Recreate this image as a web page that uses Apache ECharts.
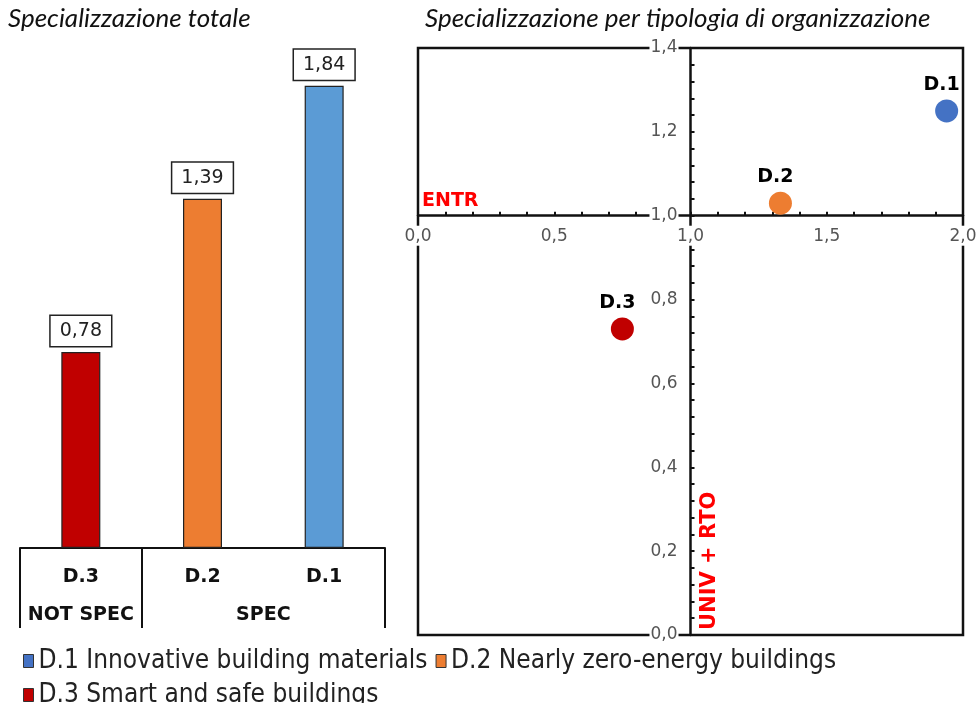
<!DOCTYPE html>
<html>
<head>
<meta charset="utf-8">
<script src="https://cdn.jsdelivr.net/npm/echarts@6/dist/echarts.min.js"></script>
<style>
  html, body { margin: 0; padding: 0; background: #fff; }
  #chart { width: 976px; height: 703px; }
</style>
</head>
<body>
<div id="chart"></div>
<script>
// Overall specialisation index per domain
const barCategories = ['D.3', 'D.2', 'D.1'];
const barValues = [0.78, 1.39, 1.84];

// Groups drawn under the category axis, as band-index ranges
const groupLabels = ['NOT SPEC', 'SPEC'];
const groupStarts = [0, 1];
const groupEnds = [1, 3];

// Specialisation by type of organisation (x: ENTR, y: UNIV + RTO)
const domainCodes = ['D.1', 'D.2', 'D.3'];
const domainNames = ['Innovative building materials', 'Nearly zero-energy buildings', 'Smart and safe buildings'];
const entrValues = [1.94, 1.33, 0.75];
const univRtoValues = [1.25, 1.03, 0.73];

// Quadrant chart tick values and the point where the axes cross
const xTickValues = [0, 0.5, 1, 1.5, 2];
const yTickValues = [0, 0.2, 0.4, 0.6, 0.8, 1, 1.2, 1.4];
const crossPoint = [1, 1];

const barColors = { 'D.1': '#5B9BD5', 'D.2': '#ED7D31', 'D.3': '#C00000' };
const pointColors = { 'D.1': '#4472C4', 'D.2': '#ED7D31', 'D.3': '#C00000' };

const FONT = "'DejaVu Sans', Verdana, sans-serif";
const LEGEND_FONT = "'DejaVu Sans Condensed', 'DejaVu Sans', sans-serif";
const TITLE_FONT = "Lato, 'Liberation Sans', sans-serif";
const fmt = (v, d) => v.toFixed(d).replace('.', ',');

const W = 976, H = 703;
const barGrid = { left: 20, right: 591, top: 48, bottom: 155 };
const quadGrid = { left: 418, right: 13, top: 48, bottom: 68 };
const quadW = W - quadGrid.left - quadGrid.right;
const quadH = H - quadGrid.top - quadGrid.bottom;

const xMin = xTickValues[0], xMax = xTickValues[xTickValues.length - 1];
const yMin = yTickValues[0], yMax = yTickValues[yTickValues.length - 1];
const xStep = xTickValues[1] - xTickValues[0];
const yStep = yTickValues[1] - yTickValues[0];
// shift the quadrant axes from the grid edge to the crossing point
const yAxisShift = -quadW * (crossPoint[0] - xMin) / (xMax - xMin);
const xAxisShift = -quadH * (crossPoint[1] - yMin) / (yMax - yMin);

const groupCenters = groupStarts.map((s, i) => (s + groupEnds[i]) / 2);
const groupBounds = Array.from(new Set(groupStarts.concat(groupEnds)));

const ink = '#111';
const lineAxisX = {
  gridIndex: 1, type: 'value', min: xMin, max: xMax, interval: xStep,
  position: 'bottom', offset: xAxisShift, z: 0,
  axisLine: { onZero: false, lineStyle: { color: ink, width: 2.5 } },
  axisTick: { inside: true, length: 4, lineStyle: { color: ink, width: 2 } },
  minorTick: { show: true, splitNumber: 5, length: 4, lineStyle: { color: ink, width: 2 } },
  axisLabel: { show: false },
  splitLine: { show: false }
};
const labelAxisX = {
  gridIndex: 1, type: 'value', min: xMin, max: xMax, interval: xStep,
  position: 'bottom', offset: xAxisShift, z: 1,
  axisLine: { show: false }, axisTick: { show: false }, splitLine: { show: false },
  axisLabel: {
    margin: 10, formatter: v => fmt(v, 1), color: '#555', fontFamily: FONT, fontSize: 17,
    backgroundColor: '#fff', padding: [2, 1, 1, 1], showMinLabel: true, showMaxLabel: true
  }
};
const lineAxisY = {
  gridIndex: 1, type: 'value', min: yMin, max: yMax, interval: yStep,
  position: 'left', offset: yAxisShift, z: 0,
  axisLine: { onZero: false, lineStyle: { color: ink, width: 2.5 } },
  axisTick: { inside: true, length: 4, lineStyle: { color: ink, width: 2 } },
  minorTick: { show: true, splitNumber: 5, length: 4, lineStyle: { color: ink, width: 2 } },
  axisLabel: { show: false },
  splitLine: { show: false }
};
const labelAxisY = {
  gridIndex: 1, type: 'value', min: yMin, max: yMax, interval: yStep,
  position: 'left', offset: yAxisShift, z: 1,
  axisLine: { show: false }, axisTick: { show: false }, splitLine: { show: false },
  axisLabel: {
    margin: 12, formatter: v => fmt(v, 1), color: '#555', fontFamily: FONT, fontSize: 17,
    backgroundColor: '#fff', padding: [1, 1, 1, 1], showMinLabel: true, showMaxLabel: true
  }
};

const titleStyle = { fontFamily: TITLE_FONT, fontStyle: 'italic', fontWeight: 'normal', fontSize: 26, color: ink };

const option = {
  animation: false,
  backgroundColor: '#fff',
  title: [
    { text: 'Specializzazione totale', left: 3, top: 1, textStyle: titleStyle },
    { text: 'Specializzazione per tipologia di organizzazione', left: 420, top: 1, textStyle: titleStyle }
  ],
  legend: {
    data: domainCodes.map((c, i) => c + ' ' + domainNames[i]),
    left: 18, top: 643, width: 880, orient: 'horizontal',
    icon: 'rect', itemWidth: 10, itemHeight: 13, itemGap: 8,
    itemStyle: { borderColor: '#333', borderWidth: 1 },
    textStyle: { fontFamily: LEGEND_FONT, fontSize: 26, color: '#222' }
  },
  grid: [
    Object.assign({ outerBoundsMode: 'none', containLabel: false }, barGrid),
    Object.assign({ outerBoundsMode: 'none', containLabel: false, show: true, borderColor: ink, borderWidth: 2.5 }, quadGrid)
  ],
  xAxis: [
    {
      gridIndex: 0, type: 'category', data: barCategories, position: 'bottom',
      axisLine: { lineStyle: { color: ink, width: 2 } },
      axisTick: { show: false },
      axisLabel: { margin: 20, fontFamily: FONT, fontWeight: 'bold', fontSize: 19, color: ink }
    },
    {
      gridIndex: 0, type: 'value', position: 'bottom', min: 0, max: barCategories.length,
      axisLine: { show: false }, splitLine: { show: false },
      axisTick: { show: true, customValues: groupBounds, length: 80, lineStyle: { color: ink, width: 2 } },
      axisLabel: {
        customValues: groupCenters,
        formatter: v => groupLabels[groupCenters.indexOf(v)] || '',
        margin: 58, fontFamily: FONT, fontWeight: 'bold', fontSize: 19, color: ink
      }
    },
    lineAxisX,
    labelAxisX
  ],
  yAxis: [
    { gridIndex: 0, type: 'value', min: 0, max: 1.99, show: false },
    lineAxisY,
    labelAxisY
  ],
  series: [
    {
      type: 'bar', xAxisIndex: 0, yAxisIndex: 0, barWidth: 39,
      data: barValues.map((v, i) => ({ value: v, itemStyle: { color: barColors[barCategories[i]] } })),
      itemStyle: { borderColor: '#222', borderWidth: 1.2 },
      label: {
        show: true, position: 'top', distance: 6,
        formatter: p => fmt(p.value, 2),
        fontFamily: FONT, fontSize: 19, color: '#222',
        backgroundColor: '#fff', borderColor: '#222', borderWidth: 1.5, padding: [6, 9, 5, 9]
      }
    }
  ].concat(domainCodes.map((code, i) => ({
    type: 'scatter', name: code + ' ' + domainNames[i],
    xAxisIndex: 2, yAxisIndex: 1,
    data: [[entrValues[i], univRtoValues[i]]],
    symbolSize: 23,
    itemStyle: { color: pointColors[code], opacity: 1 },
    label: {
      show: true, position: 'top', distance: 5, offset: [-5, 0],
      formatter: code, fontFamily: FONT, fontWeight: 'bold', fontSize: 19, color: '#000'
    }
  })))
};

const chart = echarts.init(document.getElementById('chart'), null, { renderer: 'canvas' });
chart.setOption(option);

// Axis titles placed along the crossing axes
const entrAnchor = chart.convertToPixel({ seriesIndex: 1 }, [xMin, crossPoint[1]]);
const univAnchor = chart.convertToPixel({ seriesIndex: 1 }, [crossPoint[0], yMin]);
chart.setOption({
  graphic: [
    {
      type: 'text', x: entrAnchor[0] + 4, y: entrAnchor[1] - 5, z: 10,
      style: { text: 'ENTR', fill: '#FF0000', font: 'bold 19px ' + FONT, align: 'left', verticalAlign: 'bottom' }
    },
    {
      type: 'text', x: univAnchor[0] + 19, y: univAnchor[1] - 5, rotation: Math.PI / 2, z: 10,
      style: { text: 'UNIV + RTO', fill: '#FF0000', font: 'bold 21px ' + FONT, align: 'left', verticalAlign: 'middle' }
    }
  ]
});
</script>
</body>
</html>
